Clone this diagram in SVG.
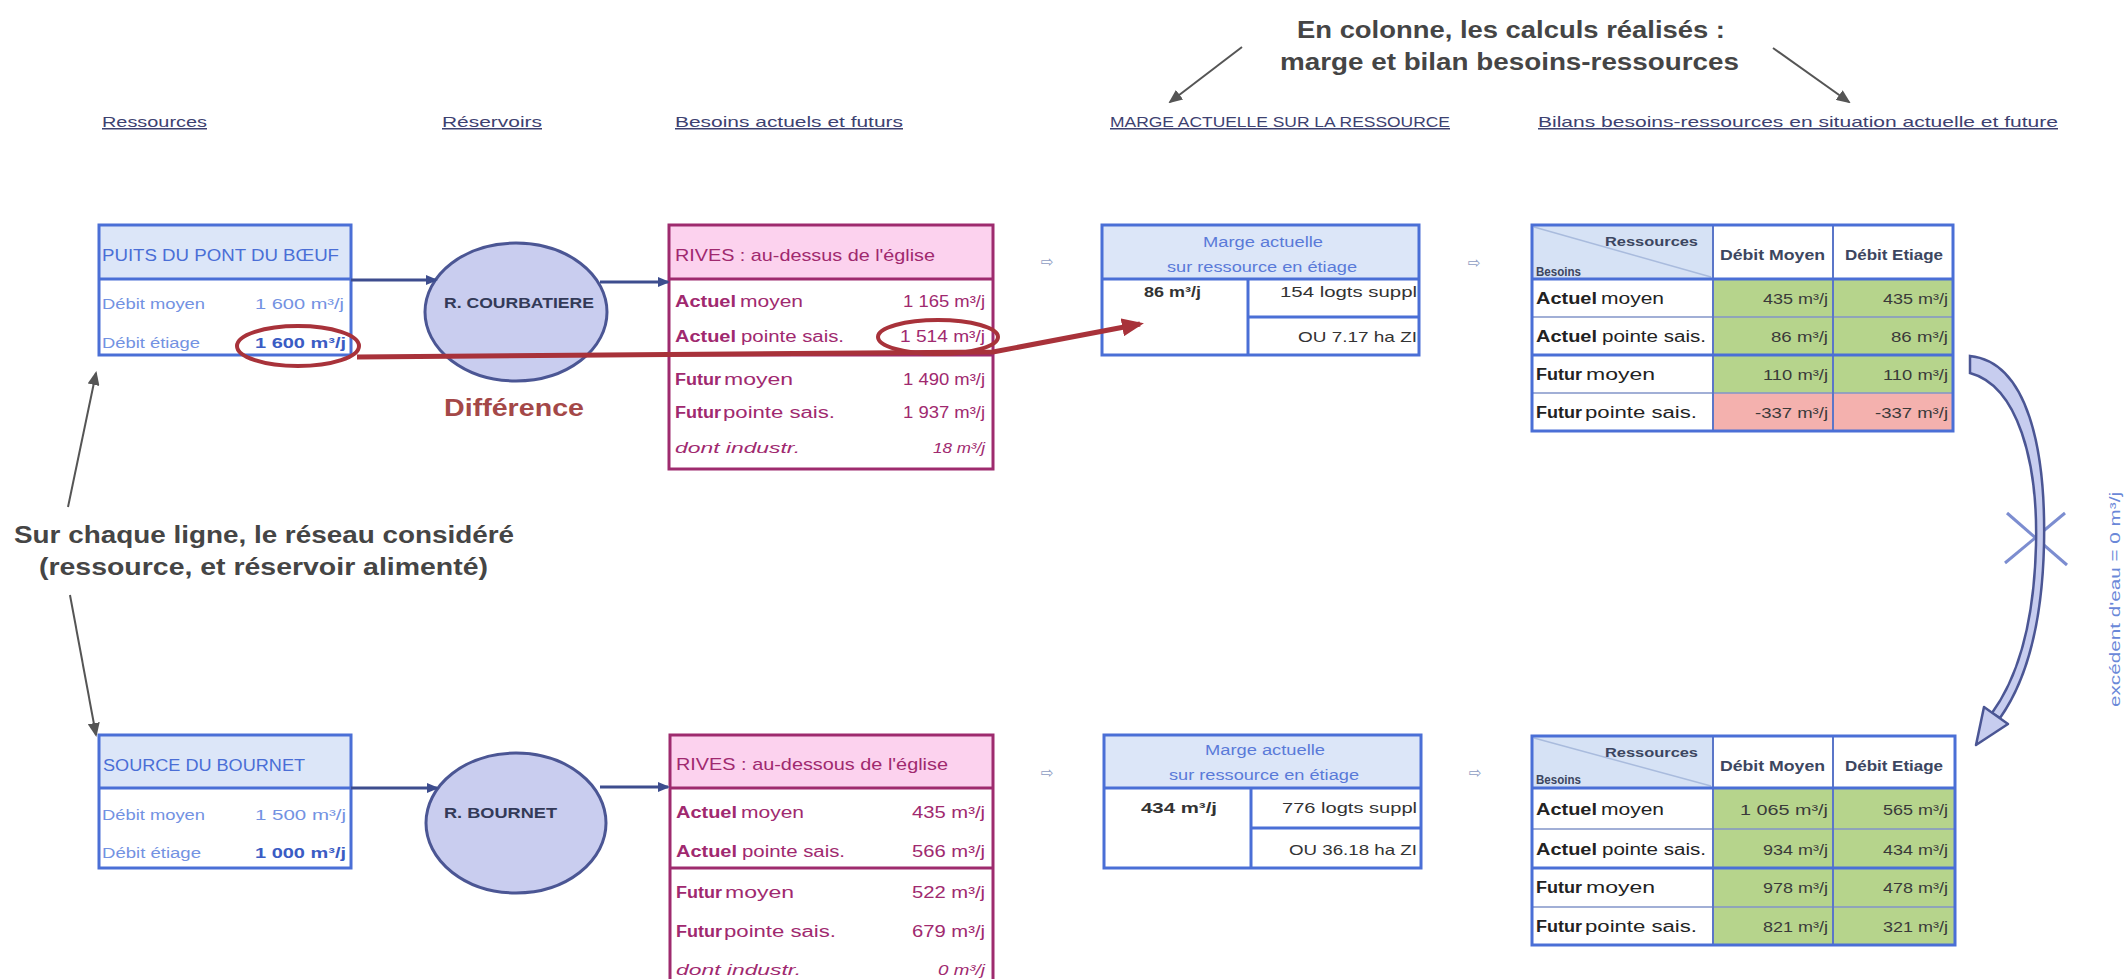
<svg xmlns="http://www.w3.org/2000/svg" width="2125" height="979" viewBox="0 0 2125 979">
<defs>
<style>
text { font-family: "Liberation Sans", Arial, sans-serif; }
.hd { font-size:15px; fill:#3d4170; text-decoration:underline; }
.co { font-size:23px; font-weight:bold; fill:#454545; }
.boxB { fill:none; stroke:#4a6fd6; stroke-width:3; }
.fillB { fill:#dce6f8; }
.lnB { stroke:#4a6fd6; stroke-width:3; }
.lnV { stroke:#5b76c8; stroke-width:2; }
.lnT { stroke:#8294c8; stroke-width:1.5; }
.boxP { fill:none; stroke:#9e2b6e; stroke-width:3; }
.fillP { fill:#fcd2ee; }
.lnP { stroke:#9e2b6e; stroke-width:3; }
.tB { font-size:16px; fill:#4a6ed6; }
.tBl { font-size:14px; fill:#7392e2; }
.tBb { font-size:14px; fill:#3a5cc4; font-weight:bold; }
.tBm { font-size:14px; fill:#5a7ad8; }
.tPh { font-size:17px; fill:#a0296f; }
.tP { font-size:16px; fill:#a0296f; }
.tPb { font-size:16px; fill:#a0296f; font-weight:bold; }
.tPi { font-size:15px; fill:#a0296f; font-style:italic; }
.tD { font-size:15px; fill:#333333; }
.tDb { font-size:15px; fill:#333333; font-weight:bold; }
.tL { font-size:16px; fill:#222222; }
.tLb { font-size:16px; fill:#222222; font-weight:bold; }
.tV { font-size:15px; fill:#3a3a3a; }
.tS { font-size:12px; fill:#3c4660; font-weight:bold; }
.tH { font-size:14px; fill:#3c4660; font-weight:bold; }
.res { fill:#c9cdef; stroke:#4b5694; stroke-width:3; }
.tR { font-size:15px; fill:#333a58; font-weight:bold; }
.grn { fill:#b6d48c; }
.pnk { fill:#f4b1ae; }
.hcell { fill:#d6e2f5; }
.arr { font-family:"DejaVu Sans", sans-serif; font-size:15px; fill:#8e9cc2; }
.conB { stroke:#3d4d8e; stroke-width:3; fill:none; }
.conR { stroke:#a8323a; stroke-width:5; fill:none; }
.conG { stroke:#555555; stroke-width:2; fill:none; }
.circR { fill:none; stroke:#a8323a; stroke-width:4; }
</style>
<marker id="mB" markerUnits="userSpaceOnUse" markerWidth="12" markerHeight="10" refX="10" refY="5" orient="auto"><path d="M0,0 L12,5 L0,10 z" fill="#3d4d8e"/></marker>
<marker id="mG" markerUnits="userSpaceOnUse" markerWidth="14" markerHeight="12" refX="12" refY="6" orient="auto"><path d="M0,0 L14,6 L0,12 z" fill="#555555"/></marker>
<marker id="mR" markerUnits="userSpaceOnUse" markerWidth="22" markerHeight="18" refX="18" refY="9" orient="auto"><path d="M0,0 L22,9 L0,18 z" fill="#a8323a"/></marker>
</defs>
<rect x="0" y="0" width="2125" height="979" fill="#ffffff"/>

<g id="headers">
<text class="hd" x="102" y="127" textLength="105" lengthAdjust="spacingAndGlyphs">Ressources</text>
<text class="hd" x="442" y="127" textLength="100" lengthAdjust="spacingAndGlyphs">Réservoirs</text>
<text class="hd" x="675" y="127" textLength="228" lengthAdjust="spacingAndGlyphs">Besoins actuels et futurs</text>
<text class="hd" x="1110" y="127" textLength="340" lengthAdjust="spacingAndGlyphs">MARGE ACTUELLE SUR LA RESSOURCE</text>
<text class="hd" x="1538" y="127" textLength="520" lengthAdjust="spacingAndGlyphs">Bilans besoins-ressources en situation actuelle et future</text>
</g>

<g id="callout-colonne">
<text class="co" x="1297" y="38" textLength="428" lengthAdjust="spacingAndGlyphs">En colonne, les calculs réalisés :</text>
<text class="co" x="1280" y="70" textLength="459" lengthAdjust="spacingAndGlyphs">marge et bilan besoins-ressources</text>
</g>

<g id="callout-ligne">
<text class="co" x="14" y="543" textLength="500" lengthAdjust="spacingAndGlyphs">Sur chaque ligne, le réseau considéré</text>
<text class="co" x="39" y="575" textLength="449" lengthAdjust="spacingAndGlyphs">(ressource, et réservoir alimenté)</text>
</g>

<!-- Top row -->
<g id="puits">
<rect x="99" y="225" width="252" height="54" class="fillB"/>
<rect x="99" y="225" width="252" height="130" class="boxB"/>
<line x1="99" y1="279" x2="351" y2="279" class="lnB"/>
<text class="tB" x="102" y="261" textLength="237" lengthAdjust="spacingAndGlyphs">PUITS DU PONT DU BŒUF</text>
<text class="tBl" x="102" y="309" textLength="103" lengthAdjust="spacingAndGlyphs">Débit moyen</text>
<text class="tBl" x="255" y="309" textLength="89" lengthAdjust="spacingAndGlyphs">1 600 m³/j</text>
<text class="tBl" x="102" y="348" textLength="98" lengthAdjust="spacingAndGlyphs">Débit étiage</text>
<text class="tBb" x="255" y="348" textLength="91" lengthAdjust="spacingAndGlyphs">1 600 m³/j</text>
</g>

<g id="res-courbatiere">
<ellipse cx="516" cy="312" rx="91" ry="69" class="res"/>
<text class="tR" x="444" y="308" textLength="150" lengthAdjust="spacingAndGlyphs">R. COURBATIERE</text>
</g>

<g id="label-difference">
<text x="444" y="416" font-size="24" font-weight="bold" fill="#a44848" textLength="140" lengthAdjust="spacingAndGlyphs">Différence</text>
</g>

<g id="rives-dessus">
<rect x="669" y="225" width="324" height="54" class="fillP"/>
<rect x="669" y="225" width="324" height="244" class="boxP"/>
<line x1="669" y1="279" x2="993" y2="279" class="lnP"/>
<line x1="669" y1="355" x2="993" y2="355" class="lnP"/>
<text class="tPh" x="675" y="261" textLength="260" lengthAdjust="spacingAndGlyphs">RIVES : au-dessus de l'église</text>
<text class="tPb" x="675" y="307" textLength="61" lengthAdjust="spacingAndGlyphs">Actuel</text>
<text class="tP" x="740" y="307" textLength="63" lengthAdjust="spacingAndGlyphs">moyen</text>
<text class="tP" x="903" y="307" textLength="82" lengthAdjust="spacingAndGlyphs">1 165 m³/j</text>
<text class="tPb" x="675" y="342" textLength="61" lengthAdjust="spacingAndGlyphs">Actuel</text>
<text class="tP" x="741" y="342" textLength="103" lengthAdjust="spacingAndGlyphs">pointe sais.</text>
<text class="tP" x="900" y="342" textLength="85" lengthAdjust="spacingAndGlyphs">1 514 m³/j</text>
<text class="tPb" x="675" y="385" textLength="46" lengthAdjust="spacingAndGlyphs">Futur</text>
<text class="tP" x="724" y="385" textLength="69" lengthAdjust="spacingAndGlyphs">moyen</text>
<text class="tP" x="903" y="385" textLength="82" lengthAdjust="spacingAndGlyphs">1 490 m³/j</text>
<text class="tPb" x="675" y="418" textLength="46" lengthAdjust="spacingAndGlyphs">Futur</text>
<text class="tP" x="723" y="418" textLength="112" lengthAdjust="spacingAndGlyphs">pointe sais.</text>
<text class="tP" x="903" y="418" textLength="82" lengthAdjust="spacingAndGlyphs">1 937 m³/j</text>
<text class="tPi" x="675" y="453" textLength="125" lengthAdjust="spacingAndGlyphs">dont industr.</text>
<text class="tPi" x="933" y="453" textLength="52" lengthAdjust="spacingAndGlyphs">18 m³/j</text>
</g>

<g id="marge-1">
<rect x="1102" y="225" width="317" height="54" class="fillB"/>
<rect x="1102" y="225" width="317" height="130" class="boxB"/>
<line x1="1102" y1="279" x2="1419" y2="279" class="lnB"/>
<line x1="1248" y1="279" x2="1248" y2="355" class="lnB"/>
<line x1="1248" y1="317" x2="1419" y2="317" class="lnB"/>
<text class="tBm" x="1203" y="247" textLength="120" lengthAdjust="spacingAndGlyphs">Marge actuelle</text>
<text class="tBm" x="1167" y="272" textLength="190" lengthAdjust="spacingAndGlyphs">sur ressource en étiage</text>
<text class="tDb" x="1144" y="297" textLength="57" lengthAdjust="spacingAndGlyphs">86 m³/j</text>
<text class="tD" x="1280" y="297" textLength="137" lengthAdjust="spacingAndGlyphs">154 logts suppl</text>
<text class="tD" x="1298" y="342" textLength="119" lengthAdjust="spacingAndGlyphs">OU 7.17 ha ZI</text>
</g>

<g id="bilan-1">
<rect x="1532" y="225" width="181" height="54" class="hcell"/>
<rect x="1713" y="279" width="240" height="114" class="grn"/>
<rect x="1713" y="393" width="240" height="38" class="pnk"/>
<line x1="1534" y1="227" x2="1711" y2="277" stroke="#a9bbdd" stroke-width="1.5"/>
<line x1="1532" y1="317" x2="1953" y2="317" class="lnT"/>
<line x1="1532" y1="393" x2="1953" y2="393" class="lnT"/>
<line x1="1713" y1="225" x2="1713" y2="431" class="lnV"/>
<line x1="1833" y1="225" x2="1833" y2="431" class="lnV"/>
<line x1="1532" y1="279" x2="1953" y2="279" class="lnB"/>
<line x1="1532" y1="355" x2="1953" y2="355" class="lnB"/>
<rect x="1532" y="225" width="421" height="206" class="boxB"/>
<text class="tS" x="1605" y="246" textLength="93" lengthAdjust="spacingAndGlyphs">Ressources</text>
<text class="tS" x="1536" y="276" textLength="45" lengthAdjust="spacingAndGlyphs">Besoins</text>
<text class="tH" x="1720" y="260" textLength="105" lengthAdjust="spacingAndGlyphs">Débit Moyen</text>
<text class="tH" x="1845" y="260" textLength="98" lengthAdjust="spacingAndGlyphs">Débit Etiage</text>
<text class="tLb" x="1536" y="304" textLength="61" lengthAdjust="spacingAndGlyphs">Actuel</text>
<text class="tL" x="1601" y="304" textLength="63" lengthAdjust="spacingAndGlyphs">moyen</text>
<text class="tLb" x="1536" y="342" textLength="61" lengthAdjust="spacingAndGlyphs">Actuel</text>
<text class="tL" x="1602" y="342" textLength="104" lengthAdjust="spacingAndGlyphs">pointe sais.</text>
<text class="tLb" x="1536" y="380" textLength="46" lengthAdjust="spacingAndGlyphs">Futur</text>
<text class="tL" x="1586" y="380" textLength="69" lengthAdjust="spacingAndGlyphs">moyen</text>
<text class="tLb" x="1536" y="418" textLength="46" lengthAdjust="spacingAndGlyphs">Futur</text>
<text class="tL" x="1585" y="418" textLength="112" lengthAdjust="spacingAndGlyphs">pointe sais.</text>
<text class="tV" x="1763" y="304" textLength="65" lengthAdjust="spacingAndGlyphs">435 m³/j</text>
<text class="tV" x="1883" y="304" textLength="65" lengthAdjust="spacingAndGlyphs">435 m³/j</text>
<text class="tV" x="1771" y="342" textLength="57" lengthAdjust="spacingAndGlyphs">86 m³/j</text>
<text class="tV" x="1891" y="342" textLength="57" lengthAdjust="spacingAndGlyphs">86 m³/j</text>
<text class="tV" x="1763" y="380" textLength="65" lengthAdjust="spacingAndGlyphs">110 m³/j</text>
<text class="tV" x="1883" y="380" textLength="65" lengthAdjust="spacingAndGlyphs">110 m³/j</text>
<text class="tV" x="1755" y="418" textLength="73" lengthAdjust="spacingAndGlyphs">-337 m³/j</text>
<text class="tV" x="1875" y="418" textLength="73" lengthAdjust="spacingAndGlyphs">-337 m³/j</text>
</g>

<!-- Bottom row -->
<g id="source-bournet">
<rect x="99" y="735" width="252" height="53" class="fillB"/>
<rect x="99" y="735" width="252" height="133" class="boxB"/>
<line x1="99" y1="788" x2="351" y2="788" class="lnB"/>
<text class="tB" x="103" y="771" textLength="202" lengthAdjust="spacingAndGlyphs">SOURCE DU BOURNET</text>
<text class="tBl" x="102" y="820" textLength="103" lengthAdjust="spacingAndGlyphs">Débit moyen</text>
<text class="tBl" x="255" y="820" textLength="91" lengthAdjust="spacingAndGlyphs">1 500 m³/j</text>
<text class="tBl" x="102" y="858" textLength="99" lengthAdjust="spacingAndGlyphs">Débit étiage</text>
<text class="tBb" x="255" y="858" textLength="91" lengthAdjust="spacingAndGlyphs">1 000 m³/j</text>
</g>

<g id="res-bournet">
<ellipse cx="516" cy="823" rx="90" ry="70" class="res"/>
<text class="tR" x="444" y="818" textLength="113" lengthAdjust="spacingAndGlyphs">R. BOURNET</text>
</g>

<g id="rives-dessous">
<rect x="670" y="735" width="323" height="53" class="fillP"/>
<rect x="670" y="735" width="323" height="252" class="boxP"/>
<line x1="670" y1="788" x2="993" y2="788" class="lnP"/>
<line x1="670" y1="868" x2="993" y2="868" class="lnP"/>
<text class="tPh" x="676" y="770" textLength="272" lengthAdjust="spacingAndGlyphs">RIVES : au-dessous de l'église</text>
<text class="tPb" x="676" y="818" textLength="61" lengthAdjust="spacingAndGlyphs">Actuel</text>
<text class="tP" x="741" y="818" textLength="63" lengthAdjust="spacingAndGlyphs">moyen</text>
<text class="tP" x="912" y="818" textLength="73" lengthAdjust="spacingAndGlyphs">435 m³/j</text>
<text class="tPb" x="676" y="857" textLength="61" lengthAdjust="spacingAndGlyphs">Actuel</text>
<text class="tP" x="742" y="857" textLength="103" lengthAdjust="spacingAndGlyphs">pointe sais.</text>
<text class="tP" x="912" y="857" textLength="73" lengthAdjust="spacingAndGlyphs">566 m³/j</text>
<text class="tPb" x="676" y="898" textLength="46" lengthAdjust="spacingAndGlyphs">Futur</text>
<text class="tP" x="725" y="898" textLength="69" lengthAdjust="spacingAndGlyphs">moyen</text>
<text class="tP" x="912" y="898" textLength="73" lengthAdjust="spacingAndGlyphs">522 m³/j</text>
<text class="tPb" x="676" y="937" textLength="46" lengthAdjust="spacingAndGlyphs">Futur</text>
<text class="tP" x="724" y="937" textLength="112" lengthAdjust="spacingAndGlyphs">pointe sais.</text>
<text class="tP" x="912" y="937" textLength="73" lengthAdjust="spacingAndGlyphs">679 m³/j</text>
<text class="tPi" x="676" y="975" textLength="125" lengthAdjust="spacingAndGlyphs">dont industr.</text>
<text class="tPi" x="938" y="975" textLength="47" lengthAdjust="spacingAndGlyphs">0 m³/j</text>
</g>

<g id="marge-2">
<rect x="1104" y="735" width="317" height="53" class="fillB"/>
<rect x="1104" y="735" width="317" height="133" class="boxB"/>
<line x1="1104" y1="788" x2="1421" y2="788" class="lnB"/>
<line x1="1251" y1="788" x2="1251" y2="868" class="lnB"/>
<line x1="1251" y1="828" x2="1421" y2="828" class="lnB"/>
<text class="tBm" x="1205" y="755" textLength="120" lengthAdjust="spacingAndGlyphs">Marge actuelle</text>
<text class="tBm" x="1169" y="780" textLength="190" lengthAdjust="spacingAndGlyphs">sur ressource en étiage</text>
<text class="tDb" x="1141" y="813" textLength="76" lengthAdjust="spacingAndGlyphs">434 m³/j</text>
<text class="tD" x="1282" y="813" textLength="135" lengthAdjust="spacingAndGlyphs">776 logts suppl</text>
<text class="tD" x="1289" y="855" textLength="128" lengthAdjust="spacingAndGlyphs">OU 36.18 ha ZI</text>
</g>

<g id="bilan-2">
<rect x="1532" y="736" width="181" height="52" class="hcell"/>
<rect x="1713" y="788" width="242" height="157" class="grn"/>
<line x1="1534" y1="738" x2="1711" y2="786" stroke="#a9bbdd" stroke-width="1.5"/>
<line x1="1532" y1="829" x2="1955" y2="829" class="lnT"/>
<line x1="1532" y1="907" x2="1955" y2="907" class="lnT"/>
<line x1="1713" y1="736" x2="1713" y2="945" class="lnV"/>
<line x1="1833" y1="736" x2="1833" y2="945" class="lnV"/>
<line x1="1532" y1="788" x2="1955" y2="788" class="lnB"/>
<line x1="1532" y1="868" x2="1955" y2="868" class="lnB"/>
<rect x="1532" y="736" width="423" height="209" class="boxB"/>
<text class="tS" x="1605" y="757" textLength="93" lengthAdjust="spacingAndGlyphs">Ressources</text>
<text class="tS" x="1536" y="784" textLength="45" lengthAdjust="spacingAndGlyphs">Besoins</text>
<text class="tH" x="1720" y="771" textLength="105" lengthAdjust="spacingAndGlyphs">Débit Moyen</text>
<text class="tH" x="1845" y="771" textLength="98" lengthAdjust="spacingAndGlyphs">Débit Etiage</text>
<text class="tLb" x="1536" y="815" textLength="61" lengthAdjust="spacingAndGlyphs">Actuel</text>
<text class="tL" x="1601" y="815" textLength="63" lengthAdjust="spacingAndGlyphs">moyen</text>
<text class="tLb" x="1536" y="855" textLength="61" lengthAdjust="spacingAndGlyphs">Actuel</text>
<text class="tL" x="1602" y="855" textLength="104" lengthAdjust="spacingAndGlyphs">pointe sais.</text>
<text class="tLb" x="1536" y="893" textLength="46" lengthAdjust="spacingAndGlyphs">Futur</text>
<text class="tL" x="1586" y="893" textLength="69" lengthAdjust="spacingAndGlyphs">moyen</text>
<text class="tLb" x="1536" y="932" textLength="46" lengthAdjust="spacingAndGlyphs">Futur</text>
<text class="tL" x="1585" y="932" textLength="112" lengthAdjust="spacingAndGlyphs">pointe sais.</text>
<text class="tV" x="1740" y="815" textLength="88" lengthAdjust="spacingAndGlyphs">1 065 m³/j</text>
<text class="tV" x="1883" y="815" textLength="65" lengthAdjust="spacingAndGlyphs">565 m³/j</text>
<text class="tV" x="1763" y="855" textLength="65" lengthAdjust="spacingAndGlyphs">934 m³/j</text>
<text class="tV" x="1883" y="855" textLength="65" lengthAdjust="spacingAndGlyphs">434 m³/j</text>
<text class="tV" x="1763" y="893" textLength="65" lengthAdjust="spacingAndGlyphs">978 m³/j</text>
<text class="tV" x="1883" y="893" textLength="65" lengthAdjust="spacingAndGlyphs">478 m³/j</text>
<text class="tV" x="1763" y="932" textLength="65" lengthAdjust="spacingAndGlyphs">821 m³/j</text>
<text class="tV" x="1883" y="932" textLength="65" lengthAdjust="spacingAndGlyphs">321 m³/j</text>
</g>

<g id="step-arrows">
<text class="arr" x="1041" y="267">⇨</text>
<text class="arr" x="1468" y="268">⇨</text>
<text class="arr" x="1041" y="778">⇨</text>
<text class="arr" x="1469" y="778">⇨</text>
</g>

<g id="excedent">
<line x1="2007" y1="513" x2="2067" y2="565" stroke="#7c8dd0" stroke-width="3"/>
<line x1="2065" y1="513" x2="2005" y2="563" stroke="#7c8dd0" stroke-width="3"/>
<text transform="translate(2120,600) rotate(-90)" x="-107" y="0" font-size="14" fill="#6a88d8" textLength="215" lengthAdjust="spacingAndGlyphs">excédent d'eau = 0 m³/j</text>
</g>

<g id="connectors">
<line x1="351" y1="280" x2="436" y2="280" class="conB" marker-end="url(#mB)"/>
<line x1="600" y1="282" x2="668" y2="282" class="conB" marker-end="url(#mB)"/>
<line x1="351" y1="788" x2="437" y2="788" class="conB" marker-end="url(#mB)"/>
<line x1="600" y1="787" x2="668" y2="787" class="conB" marker-end="url(#mB)"/>
<ellipse cx="298" cy="346" rx="61" ry="20" class="circR"/>
<ellipse cx="938" cy="337" rx="60" ry="17" class="circR"/>
<path d="M357,357 L993,352 L1140,324" class="conR" marker-end="url(#mR)"/>
<line x1="68" y1="507" x2="96" y2="373" class="conG" marker-end="url(#mG)"/>
<line x1="70" y1="595" x2="96" y2="735" class="conG" marker-end="url(#mG)"/>
<line x1="1242" y1="47" x2="1170" y2="102" class="conG" marker-end="url(#mG)"/>
<line x1="1773" y1="48" x2="1849" y2="102" class="conG" marker-end="url(#mG)"/>
<path d="M1970,356 C2028,362 2046,450 2044,545 C2042,630 2024,684 2000,718 L1992,713 C2016,680 2034,628 2036,545 C2038,462 2018,386 1970,373 Z" fill="#c7cdef" stroke="#4b5694" stroke-width="2.5"/>
<polygon points="2008,724 1976,745 1984,707" fill="#c7cdef" stroke="#4b5694" stroke-width="2.5" stroke-linejoin="round"/>
</g>
</svg>
